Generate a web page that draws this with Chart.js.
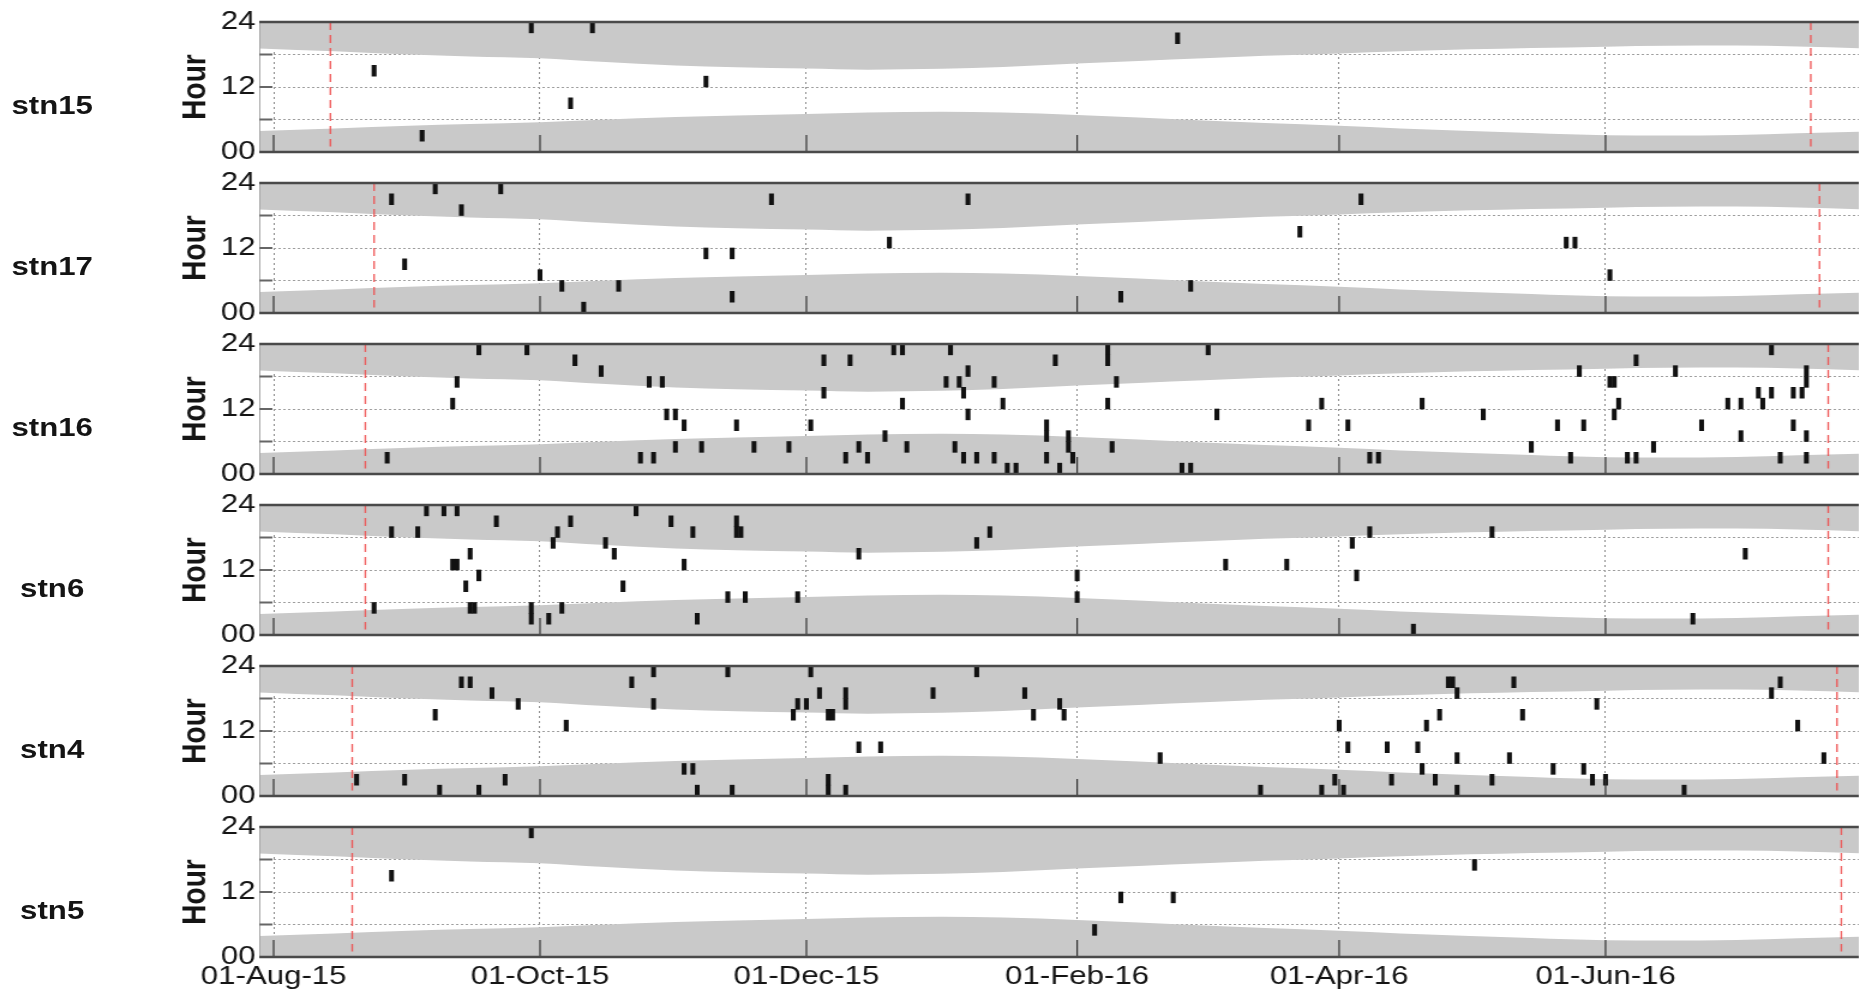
<!DOCTYPE html>
<html>
<head>
<meta charset="utf-8">
<title>Detections by hour</title>
<script src="https://cdn.jsdelivr.net/npm/chart.js@4.4.1/dist/chart.umd.min.js"></script>
<style>
  html, body { margin: 0; padding: 0; background: #fff; }
  body { width: 1864px; height: 998px; position: relative; overflow: hidden; }
  /* the original figure is stretched sideways, so the whole stage is too */
  #stage { position: absolute; left: 0; top: 0; width: 1554px; height: 998px; transform: scaleX(1.2); transform-origin: 0 0; }
  .panel { position: absolute; left: 0; }
  .stn { position: absolute; left: 0; width: 87px; text-align: center; line-height: 36px;
         font: bold 26px "Liberation Sans", Arial, sans-serif; color: #141414; }
</style>
</head>
<body>
<div id="stage"></div>
<script>
/* =======================================
   DATA
======================================= */
const stations = ["stn15", "stn17", "stn16", "stn6", "stn4", "stn5"];

const tickDates = ["2015-08-01", "2015-10-01", "2015-12-01", "2016-02-01", "2016-04-01", "2016-06-01"];
const tickLabels = ["01-Aug-15", "01-Oct-15", "01-Dec-15", "01-Feb-16", "01-Apr-16", "01-Jun-16"];
const hourTicks = [0, 6, 12, 18, 24];
const xRange = [-3.3, 363]; // days from 01-Aug-15

// deployment start / end (red dashed lines)
const deployStart = ["2015-08-14", "2015-08-24", "2015-08-22", "2015-08-22", "2015-08-19", "2015-08-19"];
const deployEnd = ["2016-07-18", "2016-07-20", "2016-07-22", "2016-07-22", "2016-07-24", "2016-07-25"];
const deploySpan = [24, 1]; // hours covered by the dashed line

// night shading: edge of the evening band and of the morning band
const nightDates = ["2015-07-28", "2015-08-15", "2015-09-01", "2015-09-15", "2015-10-01", "2015-10-15",
  "2015-11-01", "2015-11-15", "2015-12-01", "2015-12-15", "2016-01-01", "2016-01-15", "2016-02-01",
  "2016-02-15", "2016-03-01", "2016-03-15", "2016-04-01", "2016-04-15", "2016-05-01", "2016-05-15",
  "2016-06-01", "2016-06-15", "2016-07-01", "2016-07-15", "2016-07-30"];
const sunsetHours = [19.15, 18.6, 18.0, 17.65, 17.3, 16.65, 15.95, 15.65, 15.4, 15.2, 15.35, 15.7, 16.35,
  16.8, 17.3, 17.75, 18.2, 18.6, 18.95, 19.2, 19.45, 19.6, 19.65, 19.5, 19.15];
const sunriseHours = [3.85, 4.35, 4.85, 5.15, 5.5, 5.95, 6.45, 6.75, 7.0, 7.3, 7.45, 7.3, 6.85,
  6.35, 5.8, 5.35, 4.85, 4.35, 3.9, 3.5, 3.1, 3.05, 3.15, 3.45, 3.75];

// detections: [date, centre of the 2-hour bin]
const stn15Hits = [
  ["2015-08-24", 15], ["2015-09-04", 3], ["2015-09-29", 23], ["2015-10-08", 9], ["2015-10-13", 23],
  ["2015-11-08", 13], ["2016-02-24", 21]
];
const stn17Hits = [
  ["2015-08-28", 21], ["2015-08-31", 9], ["2015-09-07", 23], ["2015-09-13", 19], ["2015-09-22", 23],
  ["2015-10-01", 7], ["2015-10-06", 5], ["2015-10-11", 1], ["2015-10-19", 5], ["2015-11-08", 11],
  ["2015-11-14", 11], ["2015-11-14", 3], ["2015-11-23", 21], ["2015-12-20", 13], ["2016-01-07", 21],
  ["2016-02-11", 3], ["2016-02-27", 5], ["2016-03-23", 15], ["2016-04-06", 21], ["2016-05-23", 13],
  ["2016-05-25", 13], ["2016-06-02", 7]
];
const stn16Hits = [
  ["2015-08-27", 3], ["2015-09-11", 13], ["2015-09-12", 17], ["2015-09-17", 23], ["2015-09-28", 23],
  ["2015-10-09", 21], ["2015-10-15", 19], ["2015-10-24", 3], ["2015-10-26", 17], ["2015-10-27", 3],
  ["2015-10-29", 17], ["2015-10-30", 11], ["2015-11-01", 11], ["2015-11-01", 5], ["2015-11-03", 9],
  ["2015-11-07", 5], ["2015-11-15", 9], ["2015-11-19", 5], ["2015-11-27", 5], ["2015-12-02", 9],
  ["2015-12-05", 21], ["2015-12-05", 15], ["2015-12-10", 3], ["2015-12-11", 21], ["2015-12-13", 5],
  ["2015-12-15", 3], ["2015-12-19", 7], ["2015-12-21", 23], ["2015-12-23", 13], ["2015-12-23", 23],
  ["2015-12-24", 5], ["2016-01-02", 17], ["2016-01-03", 23], ["2016-01-04", 5], ["2016-01-05", 17],
  ["2016-01-06", 15], ["2016-01-06", 3], ["2016-01-07", 19], ["2016-01-07", 11], ["2016-01-09", 3],
  ["2016-01-13", 17], ["2016-01-13", 3], ["2016-01-15", 13], ["2016-01-16", 1], ["2016-01-18", 1],
  ["2016-01-25", 9], ["2016-01-25", 7], ["2016-01-25", 3], ["2016-01-27", 21], ["2016-01-28", 1],
  ["2016-01-30", 7], ["2016-01-30", 5], ["2016-01-31", 3], ["2016-02-08", 23], ["2016-02-08", 21],
  ["2016-02-08", 13], ["2016-02-09", 5], ["2016-02-10", 17], ["2016-02-25", 1], ["2016-02-27", 1],
  ["2016-03-02", 23], ["2016-03-04", 11], ["2016-03-25", 9], ["2016-03-28", 13], ["2016-04-03", 9],
  ["2016-04-08", 3], ["2016-04-10", 3], ["2016-04-20", 13], ["2016-05-04", 11], ["2016-05-15", 5],
  ["2016-05-21", 9], ["2016-05-24", 3], ["2016-05-26", 19], ["2016-05-27", 9], ["2016-06-02", 17],
  ["2016-06-03", 17], ["2016-06-03", 11], ["2016-06-04", 13], ["2016-06-06", 3], ["2016-06-08", 21],
  ["2016-06-08", 3], ["2016-06-12", 5], ["2016-06-17", 19], ["2016-06-23", 9], ["2016-06-29", 13],
  ["2016-07-02", 13], ["2016-07-02", 7], ["2016-07-06", 15], ["2016-07-07", 13], ["2016-07-09", 23],
  ["2016-07-09", 15], ["2016-07-11", 3], ["2016-07-14", 15], ["2016-07-14", 9], ["2016-07-16", 15],
  ["2016-07-17", 19], ["2016-07-17", 17], ["2016-07-17", 7], ["2016-07-17", 3]
];
const stn6Hits = [
  ["2015-08-24", 5], ["2015-08-28", 19], ["2015-09-03", 19], ["2015-09-05", 23], ["2015-09-09", 23],
  ["2015-09-12", 23], ["2015-09-11", 13], ["2015-09-12", 13], ["2015-09-14", 9], ["2015-09-15", 15],
  ["2015-09-15", 5], ["2015-09-16", 5], ["2015-09-17", 11], ["2015-09-21", 21], ["2015-09-29", 5],
  ["2015-09-29", 3], ["2015-10-03", 3], ["2015-10-04", 17], ["2015-10-05", 19], ["2015-10-06", 5],
  ["2015-10-08", 21], ["2015-10-16", 17], ["2015-10-18", 15], ["2015-10-20", 9], ["2015-10-23", 23],
  ["2015-10-31", 21], ["2015-11-03", 13], ["2015-11-05", 19], ["2015-11-06", 3], ["2015-11-13", 7],
  ["2015-11-15", 21], ["2015-11-15", 19], ["2015-11-16", 19], ["2015-11-17", 7], ["2015-11-29", 7],
  ["2015-12-13", 15], ["2016-01-09", 17], ["2016-01-12", 19], ["2016-02-01", 11], ["2016-02-01", 7],
  ["2016-03-06", 13], ["2016-03-20", 13], ["2016-04-04", 17], ["2016-04-05", 11], ["2016-04-08", 19],
  ["2016-04-18", 1], ["2016-05-06", 19], ["2016-06-21", 3], ["2016-07-03", 15]
];
const stn4Hits = [
  ["2015-08-20", 3], ["2015-08-31", 3], ["2015-09-07", 15], ["2015-09-08", 1], ["2015-09-13", 21],
  ["2015-09-15", 21], ["2015-09-17", 1], ["2015-09-20", 19], ["2015-09-23", 3], ["2015-09-26", 17],
  ["2015-10-07", 13], ["2015-10-22", 21], ["2015-10-27", 23], ["2015-10-27", 17], ["2015-11-03", 5],
  ["2015-11-05", 5], ["2015-11-06", 1], ["2015-11-13", 23], ["2015-11-14", 1], ["2015-11-28", 15],
  ["2015-11-29", 17], ["2015-12-01", 17], ["2015-12-02", 23], ["2015-12-04", 19], ["2015-12-06", 15],
  ["2015-12-07", 15], ["2015-12-06", 3], ["2015-12-06", 1], ["2015-12-10", 19], ["2015-12-10", 17],
  ["2015-12-10", 1], ["2015-12-13", 9], ["2015-12-18", 9], ["2015-12-30", 19], ["2016-01-09", 23],
  ["2016-01-20", 19], ["2016-01-22", 15], ["2016-01-28", 17], ["2016-01-29", 15], ["2016-02-20", 7],
  ["2016-03-14", 1], ["2016-03-28", 1], ["2016-03-31", 3], ["2016-04-01", 13], ["2016-04-02", 1],
  ["2016-04-03", 9], ["2016-04-12", 9], ["2016-04-13", 3], ["2016-04-19", 9], ["2016-04-20", 5],
  ["2016-04-21", 13], ["2016-04-23", 3], ["2016-04-24", 15], ["2016-04-26", 21], ["2016-04-27", 21],
  ["2016-04-28", 19], ["2016-04-28", 7], ["2016-04-28", 1], ["2016-05-06", 3], ["2016-05-10", 7],
  ["2016-05-11", 21], ["2016-05-13", 15], ["2016-05-20", 5], ["2016-05-27", 5], ["2016-05-29", 3],
  ["2016-05-30", 17], ["2016-06-01", 3], ["2016-06-19", 1], ["2016-07-09", 19], ["2016-07-11", 21],
  ["2016-07-15", 13], ["2016-07-21", 7]
];
const stn5Hits = [
  ["2015-08-28", 15], ["2015-09-29", 23], ["2016-02-05", 5], ["2016-02-11", 11], ["2016-02-23", 11],
  ["2016-05-02", 17]
];
const hitsByStation = [stn15Hits, stn17Hits, stn16Hits, stn6Hits, stn4Hits, stn5Hits];

/* =======================================
   LAYOUT (stage px, stage is scaled 1.2x in x)
======================================= */
const STAGE_W = 1554;
const PLOT_LEFT = 216;
const PLOT_RIGHT = 1549;
const AXIS_LEFT = 146;
const PANEL_TOPS = [22, 183, 344, 505, 666, 827];
const PANEL_H = 130;
const PAD = 20;
const X_LABEL_H = 42;

const NIGHT_GREY = "#c9c9c9";
const DEPLOY_RED = "rgba(238, 80, 80, 0.9)";
const FONT = "'Liberation Sans', Arial, sans-serif";

Chart.defaults.font.family = FONT;

/* =======================================
   UTILITIES
======================================= */
const DAY0 = Date.UTC(2015, 7, 1);

function toDay(str) {
  const [y, m, d] = str.split("-").map(Number);
  return (Date.UTC(y, m - 1, d) - DAY0) / 86400000;
}

function pad2(v) {
  return String(v).padStart(2, "0");
}

// frame, inner ticks and light left edge of each panel
const framePlugin = {
  id: "frame",
  afterDraw(chart) {
    const { ctx, chartArea: a, scales: { x, y } } = chart;
    ctx.save();
    ctx.strokeStyle = "#a3a3a3";
    ctx.lineWidth = 1;
    ctx.beginPath();
    ctx.moveTo(a.left + 0.5, a.top);
    ctx.lineTo(a.left + 0.5, a.bottom);
    ctx.stroke();

    ctx.strokeStyle = "#333";
    ctx.lineWidth = 1.2;
    ctx.beginPath();
    x.ticks.forEach((t) => {
      const px = x.getPixelForValue(t.value);
      ctx.moveTo(px, a.bottom);
      ctx.lineTo(px, a.bottom - 17);
    });
    ctx.stroke();

    ctx.strokeStyle = "#666";
    ctx.lineWidth = 2;
    ctx.beginPath();
    y.ticks.forEach((t) => {
      const py = y.getPixelForValue(t.value);
      ctx.moveTo(a.left, py);
      ctx.lineTo(a.left + 11, py);
    });
    ctx.stroke();

    ctx.strokeStyle = "#4a4a4a";
    ctx.lineWidth = 2.5;
    ctx.beginPath();
    ctx.moveTo(a.left, a.top);
    ctx.lineTo(a.right, a.top);
    ctx.moveTo(a.left, a.bottom);
    ctx.lineTo(a.right, a.bottom);
    ctx.stroke();
    ctx.restore();
  }
};

/* =======================================
   DATASETS
======================================= */
function hitBars(hits) {
  return {
    type: "bar",
    data: hits.map(([d, h]) => ({ x: toDay(d), y: [h - 1, h + 1] })),
    backgroundColor: "#111",
    borderWidth: 0,
    barThickness: 3.4,
    order: 0
  };
}

function deployLine(date) {
  return {
    type: "line",
    data: deploySpan.map((h) => ({ x: toDay(date), y: h })),
    borderColor: DEPLOY_RED,
    borderWidth: 1.4,
    borderDash: [8, 5],
    pointRadius: 0,
    fill: false,
    order: 1
  };
}

function nightBand(hours, fill) {
  return {
    type: "line",
    data: nightDates.map((d, k) => ({ x: toDay(d), y: hours[k] })),
    fill,
    backgroundColor: NIGHT_GREY,
    borderWidth: 0,
    pointRadius: 0,
    cubicInterpolationMode: "monotone",
    order: 2
  };
}

/* =======================================
   PANELS
======================================= */
const stage = document.getElementById("stage");

function drawPanel(i) {
  const last = i === stations.length - 1;
  const height = PAD + PANEL_H + (last ? X_LABEL_H : PAD);

  const wrap = document.createElement("div");
  wrap.className = "panel";
  wrap.style.top = (PANEL_TOPS[i] - PAD) + "px";
  const canvas = document.createElement("canvas");
  canvas.width = STAGE_W;
  canvas.height = height;
  wrap.appendChild(canvas);
  stage.appendChild(wrap);

  const label = document.createElement("div");
  label.className = "stn";
  label.textContent = stations[i];
  label.style.top = (PANEL_TOPS[i] + 86 - 18) + "px";
  stage.appendChild(label);

  new Chart(canvas, {
    type: "bar",
    data: {
      datasets: [
        hitBars(hitsByStation[i]),
        deployLine(deployStart[i]),
        deployLine(deployEnd[i]),
        nightBand(sunsetHours, "end"),
        nightBand(sunriseHours, "start")
      ]
    },
    options: {
      responsive: false,
      animation: false,
      events: [],
      layout: { padding: { top: PAD, bottom: last ? 0 : PAD, left: AXIS_LEFT, right: STAGE_W - PLOT_RIGHT } },
      plugins: { legend: { display: false }, tooltip: { enabled: false } },
      scales: {
        x: {
          type: "linear",
          min: xRange[0],
          max: xRange[1],
          offset: false,
          z: 1,
          afterBuildTicks: (s) => { s.ticks = tickDates.map((d) => ({ value: toDay(d) })); },
          afterFit: (s) => { s.height = last ? X_LABEL_H : 0; },
          ticks: {
            display: last,
            autoSkip: false,
            maxRotation: 0,
            padding: 4,
            color: "#141414",
            font: { size: 26 },
            callback: (v, k) => tickLabels[k]
          },
          grid: { color: "#8d8d8d", lineWidth: 1, drawTicks: false, offset: false },
          border: { display: false, dash: [2, 3] }
        },
        y: {
          min: 0,
          max: 24,
          z: 1,
          afterBuildTicks: (s) => { s.ticks = hourTicks.map((v) => ({ value: v })); },
          afterFit: (s) => { s.width = PLOT_LEFT - AXIS_LEFT; },
          ticks: {
            autoSkip: false,
            padding: 3,
            color: "#141414",
            font: { size: 26 },
            callback: (v) => (v % 12 === 0 ? pad2(v) : "")
          },
          grid: { color: "#9e9e9e", lineWidth: 1, drawTicks: false },
          border: { display: false, dash: [2, 2] },
          title: {
            display: true,
            text: "Hour",
            color: "#141414",
            font: { size: 28, weight: "bold" },
            padding: { top: 0, bottom: 0 }
          }
        }
      }
    },
    plugins: [framePlugin]
  });
}

stations.forEach((_, i) => drawPanel(i));
</script>
</body>
</html>
